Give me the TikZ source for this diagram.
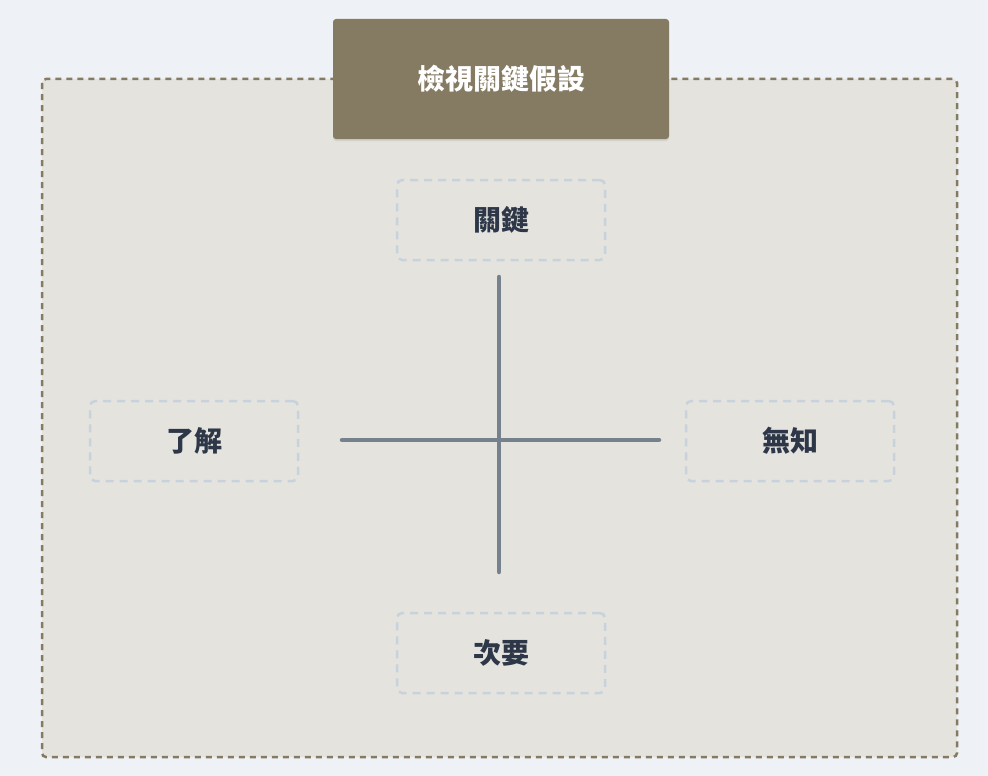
\documentclass[tikz,border=0pt]{standalone}
\usepackage{fontspec}
\newfontfamily\cjk{Noto Sans CJK TC}
\usetikzlibrary{shadows}
\definecolor{pagebg}{HTML}{EEF2F6}
\definecolor{panelbg}{HTML}{E4E3DE}
\definecolor{brown}{HTML}{857A62}
\definecolor{boxline}{HTML}{C8D2DD}
\definecolor{labeltext}{HTML}{2D3748}
\definecolor{axisline}{HTML}{75828E}
\tikzset{
  labelbox/.style={draw=boxline, line width=2.5pt, dash pattern=on 8pt off 6pt,
    rounded corners=5pt, minimum width=208pt, minimum height=80pt,
    text=labeltext, font=\cjk\bfseries\fontsize{28}{32}\selectfont},
  titlebox/.style={fill=brown, rounded corners=3pt, minimum width=336pt,
    minimum height=120pt, text=white, font=\cjk\bfseries\fontsize{28}{32}\selectfont,
    drop shadow={shadow xshift=0pt, shadow yshift=-2pt, opacity=0.18}},
  axis/.style={draw=axisline, line width=4.5pt, line cap=round}
}
\begin{document}
\begin{tikzpicture}[x=1pt,y=-1pt]
\fill[pagebg] (0,0) rectangle (988,776);
\useasboundingbox (0,0) rectangle (988,776);
\draw[brown, fill=panelbg, line width=2.5pt, dash pattern=on 6pt off 5pt, rounded corners=4pt] (42,79) rectangle (957,757);
\node[titlebox] (title) at (501,79) {檢視關鍵假設};
\node[labelbox] (key) at (501,220) {關鍵};
\node[labelbox] (know) at (194,441) {了解};
\node[labelbox] (unknown) at (790,441) {無知};
\node[labelbox] (minor) at (501,653) {次要};
\coordinate (VT) at (499,277); % top of vertical
\coordinate (VB) at (499,572); % bottom of vertical
\coordinate (HL) at (342,440); % left of horizontal
\coordinate (HR) at (659,440); % right of horizontal
\draw[axis] (VT) -- (VB);
\draw[axis] (HL) -- (HR);
\end{tikzpicture}
\end{document}
